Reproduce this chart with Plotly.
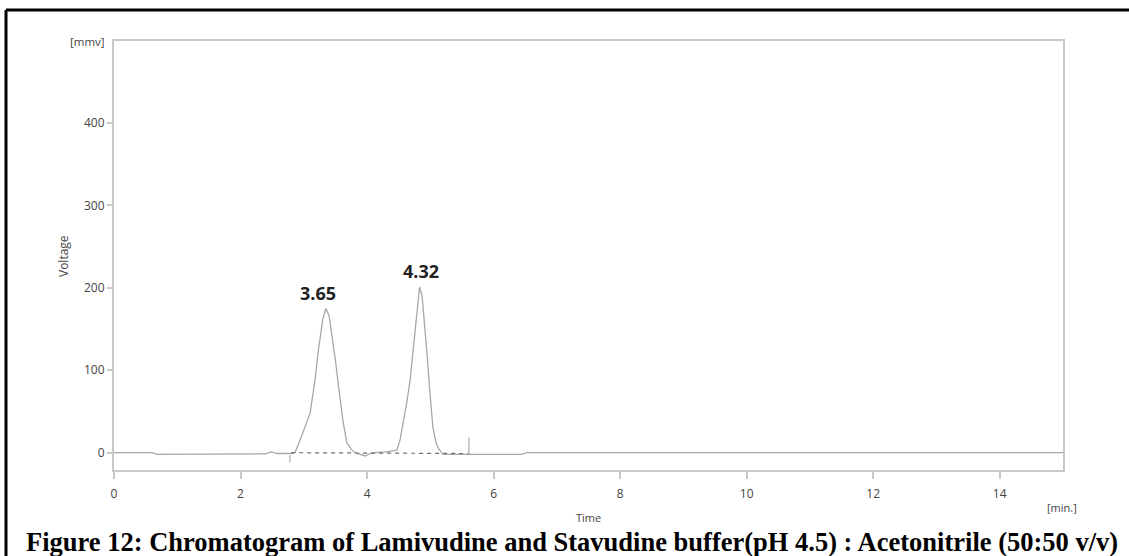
import plotly.graph_objects as go

# Chromatogram detector signal (time in min, voltage in mV)
time_min = [0.0, 0.60, 0.68, 1.5, 2.40, 2.49, 2.58, 2.80, 2.86, 2.94, 3.02, 3.10,
            3.18, 3.23, 3.30, 3.35, 3.40, 3.44, 3.50, 3.55, 3.62, 3.68, 3.75, 3.81,
            3.90, 3.97, 4.05, 4.12, 4.30, 4.47, 4.52, 4.57, 4.63, 4.68, 4.74, 4.79,
            4.83, 4.87, 4.91, 4.95, 4.99, 5.04, 5.09, 5.13, 5.20, 5.40, 5.60, 6.45,
            6.52, 10.0, 15.0]
voltage_mv = [0.0, 0.0, -2.0, -2.0, -1.5, 1.0, -1.0, -1.0, 0.0, 15.0, 32.0, 48.0,
              90.0, 124.0, 162.0, 175.0, 166.0, 145.0, 112.0, 80.0, 38.0, 12.0, 4.0, 0.0,
              -2.0, -4.0, -1.0, 0.0, 1.0, 3.0, 15.0, 35.0, 62.0, 88.0, 130.0, 169.0,
              201.0, 190.0, 157.0, 118.0, 76.0, 31.0, 12.0, 5.0, -2.0, -2.0, -2.0, -2.0,
              0.0, 0.0, 0.0]

# Integration baseline drawn under both peaks
base_time = [2.80, 5.60]
base_volt = [0.0, -1.0]

# Integration event markers
event_time = [2.78, 2.78, None, 5.61, 5.61]
event_volt = [-3.0, -12.0, None, -3.0, 18.0]

# Retention time labels
peak_labels = ["3.65", "4.32"]
label_time = [3.22, 4.85]
label_volt = [194.0, 221.0]

x_ticks = [0, 2, 4, 6, 8, 10, 12, 14]
y_ticks = [0, 100, 200, 300, 400]

caption = ("Figure 12: Chromatogram of Lamivudine and Stavudine buffer(pH 4.5) : "
           "Acetonitrile (50:50 v/v)")

axis_grey = "#c9c9c9"
text_grey = "#444444"

# plot area in pixels: x 114..1063, y 41..470
PL, PR, PT, PB = 114, 1063, 41, 470


def px(xp):
    return (xp - PL) / (PR - PL)


def py(yp):
    return (PB - yp) / (PB - PT)


fig = go.Figure()
fig.add_trace(go.Scatter(x=time_min, y=voltage_mv, mode="lines",
                         line=dict(color="#a8a8a8", width=1.3), hoverinfo="skip"))
fig.add_trace(go.Scatter(x=base_time, y=base_volt, mode="lines",
                         line=dict(color="#6f6f6f", width=1.2, dash="4px,4px"),
                         hoverinfo="skip"))
fig.add_trace(go.Scatter(x=event_time, y=event_volt, mode="lines",
                         line=dict(color="#a8a8a8", width=1.2), hoverinfo="skip"))

for txt, xt, yv in zip(peak_labels, label_time, label_volt):
    fig.add_annotation(x=xt, y=yv, text="<b>" + txt + "</b>", showarrow=False,
                       font=dict(family="Open Sans", size=18, color="#222222"))

fig.update_xaxes(range=[0, 15], tickvals=x_ticks, showgrid=False, zeroline=False,
                 showline=True, linecolor=axis_grey, linewidth=2, mirror=True,
                 ticks="outside", ticklen=7, tickcolor=axis_grey, tickwidth=1.5,
                 ticklabelstandoff=5,
                 tickfont=dict(family="Open Sans", size=12, color=text_grey))
fig.update_yaxes(range=[-21, 499.5], tickvals=y_ticks, showgrid=False, zeroline=False,
                 showline=True, linecolor=axis_grey, linewidth=2, mirror=True,
                 ticks="outside", ticklen=5, tickcolor=axis_grey, tickwidth=1.5,
                 tickfont=dict(family="Open Sans", size=12, color=text_grey))


def label(xp, yp, text, size, angle=0, family="Open Sans", color=text_grey):
    fig.add_annotation(xref="paper", yref="paper", x=px(xp), y=py(yp), text=text,
                       textangle=angle, showarrow=False, xanchor="center",
                       yanchor="middle", font=dict(family=family, size=size, color=color))


# Axis titles and units
label(87, 41, "[mmv]", 11.5)
label(63, 256, "Voltage", 12, angle=-90)
label(588, 517, "Time", 11)
label(1062, 508, "[min.]", 11)

# Figure caption
label(572, 542, "<b>" + caption + "</b>", 26.5, family="Liberation Serif", color="#000000")

# Frame around the figure (top and left edges)
fig.add_shape(type="line", xref="paper", yref="paper", x0=px(6), x1=px(1129),
              y0=py(10), y1=py(10), line=dict(color="black", width=3))
fig.add_shape(type="line", xref="paper", yref="paper", x0=px(6), x1=px(6),
              y0=py(10), y1=py(560), line=dict(color="black", width=3))

fig.update_layout(width=1129, height=556, showlegend=False,
                  margin=dict(l=PL, r=1129 - PR, t=PT, b=556 - PB),
                  paper_bgcolor="white", plot_bgcolor="white")

fig.write_html("out.html")
